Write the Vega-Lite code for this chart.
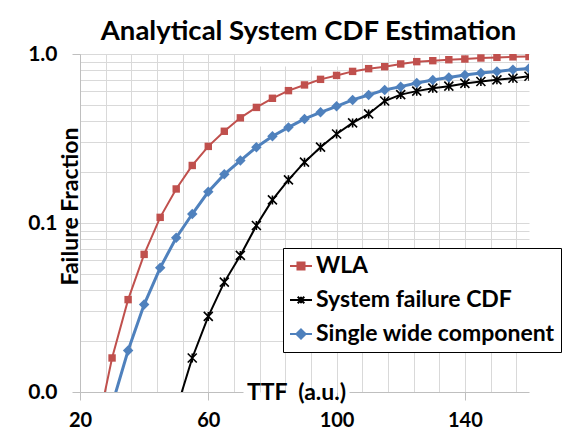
{
  "$schema": "https://vega.github.io/schema/vega-lite/v6.json",
  "width": 449,
  "height": 338,
  "autosize": {"type": "none"},
  "padding": {"left": 80, "top": 54, "right": 48, "bottom": 49},
  "background": "white",
  "title": {"text": "Analytical System CDF Estimation", "font": "Lato", "fontSize": 27.5, "fontWeight": "bold", "color": "#000000", "anchor": "middle", "frame": "group", "baseline": "alphabetic", "offset": 4, "dy": 28, "dx": 4},
  "config": {"view": {"stroke": null}, "font": "Lato"},
  "data": {"values": [
    {"series": "WLA", "ttf": 25, "f": 0.0056},
    {"series": "WLA", "ttf": 30, "f": 0.0159},
    {"series": "WLA", "ttf": 35, "f": 0.0352},
    {"series": "WLA", "ttf": 40, "f": 0.0652},
    {"series": "WLA", "ttf": 45, "f": 0.108},
    {"series": "WLA", "ttf": 50, "f": 0.159},
    {"series": "WLA", "ttf": 55, "f": 0.219},
    {"series": "WLA", "ttf": 60, "f": 0.284},
    {"series": "WLA", "ttf": 65, "f": 0.349},
    {"series": "WLA", "ttf": 70, "f": 0.419},
    {"series": "WLA", "ttf": 75, "f": 0.483},
    {"series": "WLA", "ttf": 80, "f": 0.547},
    {"series": "WLA", "ttf": 85, "f": 0.607},
    {"series": "WLA", "ttf": 90, "f": 0.656},
    {"series": "WLA", "ttf": 95, "f": 0.708},
    {"series": "WLA", "ttf": 100, "f": 0.747},
    {"series": "WLA", "ttf": 105, "f": 0.789},
    {"series": "WLA", "ttf": 110, "f": 0.819},
    {"series": "WLA", "ttf": 115, "f": 0.841},
    {"series": "WLA", "ttf": 120, "f": 0.873},
    {"series": "WLA", "ttf": 125, "f": 0.901},
    {"series": "WLA", "ttf": 130, "f": 0.913},
    {"series": "WLA", "ttf": 135, "f": 0.925},
    {"series": "WLA", "ttf": 140, "f": 0.934},
    {"series": "WLA", "ttf": 145, "f": 0.947},
    {"series": "WLA", "ttf": 150, "f": 0.955},
    {"series": "WLA", "ttf": 155, "f": 0.962},
    {"series": "WLA", "ttf": 160, "f": 0.966},
    {"series": "System failure CDF", "ttf": 50, "f": 0.0078},
    {"series": "System failure CDF", "ttf": 55, "f": 0.0159},
    {"series": "System failure CDF", "ttf": 60, "f": 0.028},
    {"series": "System failure CDF", "ttf": 65, "f": 0.0447},
    {"series": "System failure CDF", "ttf": 70, "f": 0.0643},
    {"series": "System failure CDF", "ttf": 75, "f": 0.0966},
    {"series": "System failure CDF", "ttf": 80, "f": 0.137},
    {"series": "System failure CDF", "ttf": 85, "f": 0.18},
    {"series": "System failure CDF", "ttf": 90, "f": 0.229},
    {"series": "System failure CDF", "ttf": 95, "f": 0.281},
    {"series": "System failure CDF", "ttf": 100, "f": 0.336},
    {"series": "System failure CDF", "ttf": 105, "f": 0.391},
    {"series": "System failure CDF", "ttf": 110, "f": 0.442},
    {"series": "System failure CDF", "ttf": 115, "f": 0.527},
    {"series": "System failure CDF", "ttf": 120, "f": 0.575},
    {"series": "System failure CDF", "ttf": 125, "f": 0.603},
    {"series": "System failure CDF", "ttf": 130, "f": 0.628},
    {"series": "System failure CDF", "ttf": 135, "f": 0.645},
    {"series": "System failure CDF", "ttf": 140, "f": 0.67},
    {"series": "System failure CDF", "ttf": 145, "f": 0.688},
    {"series": "System failure CDF", "ttf": 150, "f": 0.703},
    {"series": "System failure CDF", "ttf": 155, "f": 0.719},
    {"series": "System failure CDF", "ttf": 160, "f": 0.739},
    {"series": "Single wide component", "ttf": 30, "f": 0.0084},
    {"series": "Single wide component", "ttf": 35, "f": 0.0176},
    {"series": "Single wide component", "ttf": 40, "f": 0.0329},
    {"series": "Single wide component", "ttf": 45, "f": 0.0543},
    {"series": "Single wide component", "ttf": 50, "f": 0.0818},
    {"series": "Single wide component", "ttf": 55, "f": 0.113},
    {"series": "Single wide component", "ttf": 60, "f": 0.153},
    {"series": "Single wide component", "ttf": 65, "f": 0.194},
    {"series": "Single wide component", "ttf": 70, "f": 0.234},
    {"series": "Single wide component", "ttf": 75, "f": 0.281},
    {"series": "Single wide component", "ttf": 80, "f": 0.326},
    {"series": "Single wide component", "ttf": 85, "f": 0.368},
    {"series": "Single wide component", "ttf": 90, "f": 0.413},
    {"series": "Single wide component", "ttf": 95, "f": 0.452},
    {"series": "Single wide component", "ttf": 100, "f": 0.49},
    {"series": "Single wide component", "ttf": 105, "f": 0.535},
    {"series": "Single wide component", "ttf": 110, "f": 0.572},
    {"series": "Single wide component", "ttf": 115, "f": 0.613},
    {"series": "Single wide component", "ttf": 120, "f": 0.641},
    {"series": "Single wide component", "ttf": 125, "f": 0.674},
    {"series": "Single wide component", "ttf": 130, "f": 0.702},
    {"series": "Single wide component", "ttf": 135, "f": 0.727},
    {"series": "Single wide component", "ttf": 140, "f": 0.751},
    {"series": "Single wide component", "ttf": 145, "f": 0.772},
    {"series": "Single wide component", "ttf": 150, "f": 0.789},
    {"series": "Single wide component", "ttf": 155, "f": 0.808},
    {"series": "Single wide component", "ttf": 160, "f": 0.822}
  ]},
  "encoding": {
    "x": {
      "field": "ttf", "type": "quantitative",
      "scale": {"domain": [20, 160], "nice": false, "zero": false},
      "axis": {
        "values": [20, 28, 36, 44, 52, 60, 68, 76, 84, 92, 100, 108, 116, 124, 132, 140, 148, 156],
        "format": "d",
        "labelExpr": "(datum.value - 20) % 40 == 0 ? datum.label : ''",
        "labelOverlap": false, "labelFlush": false,
        "labelFont": "Lato", "labelFontSize": 20, "labelFontWeight": "bold", "labelColor": "#000000", "labelPadding": 10,
        "tickSize": 8, "tickColor": "#bfbfbf",
        "tickOpacity": {"condition": {"test": "(datum.value - 20) % 40 == 0", "value": 1}, "value": 0},
        "grid": true, "gridColor": "#d9d9d9",
        "gridDash": {"condition": {"test": "datum.value >= 76 && datum.value <= 100", "value": [0, 12, 1000]}, "value": []},
        "domainColor": "#bfbfbf", "domainDash": [163, 106, 1000],
        "title": "TTF\u00a0 (a.u.)", "titleFont": "Lato", "titleFontSize": 23, "titleFontWeight": "bold", "titleColor": "#000000",
        "titleX": 216, "titleY": 0, "titleBaseline": "middle", "titleAlign": "center"
      }
    },
    "y": {
      "field": "f", "type": "quantitative",
      "scale": {"type": "log", "domain": [0.01, 1], "nice": false},
      "axis": {
        "values": [0.01, 0.02, 0.03, 0.04, 0.05, 0.06, 0.07, 0.08, 0.09, 0.1, 0.2, 0.3, 0.4, 0.5, 0.6, 0.7, 0.8, 0.9, 1],
        "labelExpr": "datum.value == 0.01 || datum.value == 0.1 || datum.value == 1 ? format(datum.value, '.1f') : ''",
        "labelOverlap": false, "labelFlush": false,
        "labelFont": "Lato", "labelFontSize": 21, "labelFontWeight": "bold", "labelColor": "#000000", "labelPadding": 15,
        "tickSize": 8, "tickColor": "#bfbfbf",
        "tickOpacity": {"condition": {"test": "datum.value == 0.01 || datum.value == 0.1 || datum.value == 1", "value": 1}, "value": 0},
        "grid": true, "gridColor": "#d9d9d9",
        "gridOpacity": {"condition": {"test": "datum.value == 0.01", "value": 0}, "value": 1},
        "domainColor": "#bfbfbf",
        "title": "Failure Fraction", "titleFont": "Lato", "titleFontSize": 23, "titleFontWeight": "bold", "titleColor": "#000000",
        "titleAngle": 270, "titleX": -10, "titleY": 152, "titleBaseline": "middle", "titleAlign": "center"
      }
    }
  },
  "layer": [
    {
      "transform": [{"filter": "datum.series == 'WLA'"}],
      "mark": {"type": "line", "stroke": "#C0504D", "strokeWidth": 2, "clip": true},
      "encoding": {}
    },
    {
      "transform": [{"filter": "datum.series == 'WLA'"}],
      "mark": {"type": "point", "shape": "square", "filled": true, "size": 55, "color": "#C0504D", "opacity": 1, "clip": true}
    },
    {
      "transform": [{"filter": "datum.series == 'System failure CDF'"}],
      "mark": {"type": "line", "stroke": "#000000", "strokeWidth": 2, "clip": true},
      "encoding": {}
    },
    {
      "transform": [{"filter": "datum.series == 'System failure CDF'"}],
      "mark": {"type": "point", "shape": "M-1,-1L1,1M-1,1L1,-1M0,-1L0,1", "filled": false, "size": 81, "stroke": "#000000", "strokeWidth": 1.6, "opacity": 1, "clip": true}
    },
    {
      "transform": [{"filter": "datum.series == 'Single wide component'"}],
      "mark": {"type": "line", "stroke": "#4F81BD", "strokeWidth": 3, "clip": true},
      "encoding": {}
    },
    {
      "transform": [{"filter": "datum.series == 'Single wide component'"}],
      "mark": {"type": "point", "shape": "diamond", "filled": true, "size": 110, "color": "#4F81BD", "opacity": 1, "clip": true}
    },
    {
      "transform": [{"filter": "datum.f < 0.01"}],
      "mark": {"type": "point", "filled": true, "opacity": 1, "clip": true},
      "encoding": {
        "fill": {"field": "series", "type": "nominal", "scale": {"domain": ["WLA", "System failure CDF", "Single wide component"], "range": ["#C0504D", "#000000", "#4F81BD"]},
          "legend": {"title": null, "orient": "none", "legendX": 203, "legendY": 194, "padding": 6, "strokeColor": "#000000", "fillColor": "#ffffff", "symbolSize": 484, "symbolStrokeWidth": 2, "symbolOpacity": 1, "rowPadding": 10, "labelOffset": 3, "labelFont": "Lato", "labelFontSize": 23, "labelFontWeight": "bold", "labelColor": "#000000", "labelLimit": 400}},
        "stroke": {"field": "series", "type": "nominal", "scale": {"domain": ["WLA", "System failure CDF", "Single wide component"], "range": ["#C0504D", "#000000", "#4F81BD"]},
          "legend": {"title": null, "orient": "none", "legendX": 203, "legendY": 194, "padding": 6, "strokeColor": "#000000", "fillColor": "#ffffff", "symbolSize": 484, "symbolStrokeWidth": 2, "symbolOpacity": 1, "rowPadding": 10, "labelOffset": 3, "labelFont": "Lato", "labelFontSize": 23, "labelFontWeight": "bold", "labelColor": "#000000", "labelLimit": 400}},
        "shape": {"field": "series", "type": "nominal", "scale": {"domain": ["WLA", "System failure CDF", "Single wide component"], "range": ["M-1,0L1,0M-0.32,-0.32L0.32,-0.32L0.32,0.32L-0.32,0.32Z", "M-1,0L1,0M-0.3,-0.3L0.3,0.3M-0.3,0.3L0.3,-0.3M0,-0.3L0,0.3", "M-1,0L1,0M0,-0.42L0.42,0L0,0.42L-0.42,0Z"]},
          "legend": {"title": null, "orient": "none", "legendX": 203, "legendY": 194, "padding": 6, "strokeColor": "#000000", "fillColor": "#ffffff", "symbolSize": 484, "symbolStrokeWidth": 2, "symbolOpacity": 1, "rowPadding": 10, "labelOffset": 3, "labelFont": "Lato", "labelFontSize": 23, "labelFontWeight": "bold", "labelColor": "#000000", "labelLimit": 400}}
      }
    }
  ]
}
